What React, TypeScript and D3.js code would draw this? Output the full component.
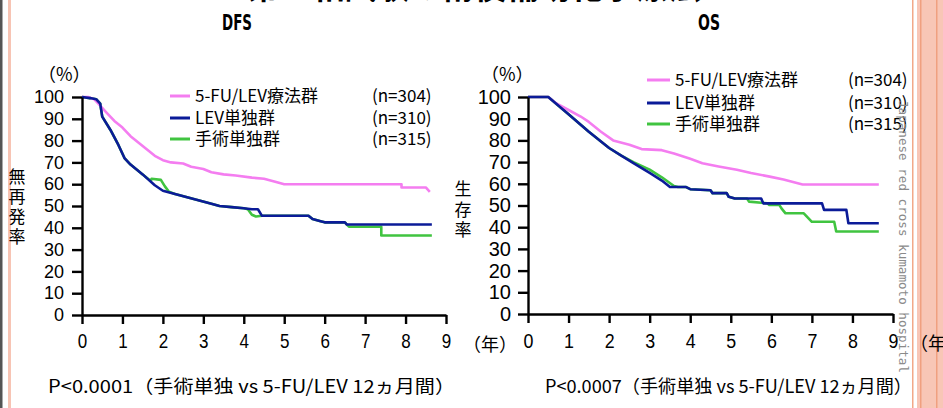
import React, { useEffect, useRef } from "react";
import * as d3 from "d3";

type Pt = [number, number];

const years = [0, 1, 2, 3, 4, 5, 6, 7, 8, 9];
const pctTicks = [0, 10, 20, 30, 40, 50, 60, 70, 80, 90, 100];

const legendLabels = ["5-FU/LEV療法群", "LEV単独群", "手術単独群"];
const legendN = ["(n=304)", "(n=310)", "(n=315)"];
const seriesColors = ["#f47df0", "#0b1b98", "#40c440"];

// DFS (years, %)
const dfsChemo: Pt[] = [
  [0, 100], [0.15, 100], [0.3, 99], [0.45, 96], [0.6, 93], [0.8, 89], [1.0, 86],
  [1.2, 82], [1.4, 79], [1.6, 76], [1.8, 73], [2.0, 71], [2.2, 70], [2.5, 69.5],
  [2.7, 68], [3.0, 67], [3.2, 65.5], [3.5, 64.5], [3.8, 64], [4.2, 63], [4.5, 62.5],
  [4.8, 61], [5.0, 60], [6.0, 60], [7.0, 60], [7.9, 60], [7.9, 58.5], [8.5, 58.5], [8.6, 56.5],
];
const dfsLev: Pt[] = [
  [0, 100], [0.2, 99.5], [0.35, 99], [0.45, 97], [0.5, 91], [0.7, 85], [0.9, 78],
  [1.05, 72], [1.2, 69], [1.5, 64.5], [1.8, 59.5], [2.0, 57], [2.3, 55.5], [2.6, 54],
  [2.9, 52.5], [3.2, 51], [3.4, 50], [3.7, 49.5], [4.0, 49], [4.2, 48.5], [4.35, 48.5],
  [4.45, 45.5], [5.6, 45.5], [5.7, 44], [5.9, 43], [6.0, 42.5], [6.5, 42.5], [6.55, 41.5], [8.65, 41.5],
];
const dfsSurgery: Pt[] = [
  [0, 100], [0.2, 99.5], [0.35, 99], [0.45, 97], [0.5, 91], [0.7, 85], [0.9, 78],
  [1.05, 72], [1.2, 69], [1.5, 64.5], [1.7, 61.5], [1.72, 62.5], [1.95, 62], [2.05, 59],
  [2.15, 56.5], [2.3, 55.5], [2.6, 54], [2.9, 52.5], [3.2, 51], [3.4, 50], [3.7, 49.5],
  [4.0, 49], [4.1, 48.5], [4.2, 46], [4.3, 45.2], [4.45, 45.5], [5.6, 45.5], [5.7, 44],
  [5.9, 43], [6.0, 42.5], [6.5, 42.5], [6.55, 41.5], [6.6, 40.5], [7.4, 40.5], [7.4, 36.5], [8.65, 36.5],
];

// OS (years, %)
const osChemo: Pt[] = [
  [0, 100], [0.5, 100], [0.7, 97], [1.0, 94], [1.3, 91], [1.5, 88.5], [1.8, 84],
  [2.1, 80], [2.5, 78], [2.8, 76], [3.3, 75.5], [3.6, 74], [4.0, 71.5], [4.3, 69.5],
  [4.7, 68], [5.15, 66.5], [5.5, 65], [5.96, 63.3], [6.3, 62], [6.77, 59.7], [8.65, 59.7],
];
const osLev: Pt[] = [
  [0, 100], [0.5, 100], [1.0, 92], [1.5, 84], [2.0, 76.5], [2.3, 73], [2.6, 69.5],
  [3.0, 65], [3.3, 61.5], [3.5, 58.5], [3.9, 58.5], [4.0, 57.5], [4.5, 57], [4.55, 55.7],
  [4.9, 55.7], [4.95, 54], [5.1, 53.2], [5.75, 53.2], [5.8, 51], [7.25, 51], [7.3, 48],
  [7.85, 48], [7.9, 41.8], [8.65, 41.8],
];
const osSurgery: Pt[] = [
  [0, 100], [0.5, 100], [1.0, 92], [1.5, 84], [2.0, 76.5], [2.3, 73], [2.6, 70],
  [3.0, 66.5], [3.3, 63], [3.6, 59], [3.7, 58.5], [3.9, 58.5], [4.0, 57.5], [4.5, 57],
  [4.55, 55.7], [4.9, 55.7], [4.95, 54], [5.1, 53.2], [5.4, 53.2], [5.45, 51.8], [5.9, 51],
  [5.95, 50.2], [6.2, 50.2], [6.25, 48.7], [6.35, 46.4], [6.8, 46.4], [7.0, 42.5],
  [7.55, 42.5], [7.6, 38], [8.65, 38],
];

const jp = "'Noto Sans CJK JP', sans-serif";
const num = "'Liberation Sans', Arial, sans-serif";

const drawKM = (svg: any, c: any) => {
  const x = d3.scaleLinear().domain([0, 9]).range([c.x0, c.x9]);
  const y = d3.scaleLinear().domain([0, 100]).range([c.y0, c.y100]);
  const g = svg.append("g");

  // curves: surgery under, chemo, LEV on top
  const line = d3.line<Pt>().x(d => x(d[0])).y(d => y(d[1]));
  [[c.series[2], seriesColors[2]], [c.series[0], seriesColors[0]], [c.series[1], seriesColors[1]]]
    .forEach(([s, col]: any) => {
      g.append("path")
        .attr("d", line(s))
        .attr("fill", "none")
        .attr("stroke", col)
        .attr("stroke-width", 2.6)
        .attr("stroke-linejoin", "round");
    });

  // y axis
  const ya = g.append("g")
    .attr("transform", `translate(${c.x0},0)`)
    .call(d3.axisLeft(y).tickValues(pctTicks).tickSize(10).tickSizeOuter(0).tickPadding(c.yPad));
  ya.attr("font-family", num).attr("font-size", c.yFont);
  ya.selectAll("path, line").attr("stroke", "#000").attr("stroke-width", 2.4);

  // x axis
  const xa = g.append("g")
    .attr("transform", `translate(0,${c.y0})`)
    .call(d3.axisBottom(x).tickValues(years).tickFormat(d3.format("d")).tickSize(9).tickSizeOuter(0).tickPadding(10));
  xa.attr("font-family", num).attr("font-size", c.xFont);
  xa.selectAll("path, line").attr("stroke", "#000").attr("stroke-width", 2.4);
  xa.selectAll("text").attr("transform", "scale(0.85,1)");

  // unit labels
  g.append("text").attr("x", c.pctX).attr("y", 81).attr("font-family", jp).attr("font-size", 18)
    .text("（%）");
  g.append("text").attr("x", c.x9 + 17).attr("y", c.y0 + 36).attr("font-family", jp).attr("font-size", 18)
    .text("（年）");

  // vertical y label
  c.yLabel.split("").forEach((ch: string, i: number) => {
    g.append("text").attr("x", c.yLabX).attr("y", c.yLabY + i * c.yLabStep)
      .attr("text-anchor", "middle").attr("font-family", jp).attr("font-size", 17)
      .text(ch);
  });

  // legend
  legendLabels.forEach((lab, i) => {
    const ly = c.legY[i];
    g.append("line").attr("x1", c.legX1).attr("x2", c.legX2).attr("y1", ly).attr("y2", ly)
      .attr("stroke", seriesColors[i]).attr("stroke-width", 3);
    g.append("text").attr("x", c.legTx).attr("y", ly + 6).attr("font-family", jp).attr("font-size", 17)
      .text(lab);
    g.append("text").attr("x", c.legNx).attr("y", ly + 6).attr("font-family", jp).attr("font-size", 17)
      .text(legendN[i]);
  });

  // panel title
  g.append("text").attr("x", c.titleX).attr("y", 30).attr("text-anchor", "middle")
    .attr("font-family", "'DejaVu Sans Condensed', 'Liberation Sans', sans-serif").attr("font-weight", "bold")
    .attr("font-size", 21).attr("textLength", c.titleW).attr("lengthAdjust", "spacingAndGlyphs")
    .text(c.title);

  // p-value note
  g.append("text").attr("x", c.pX).attr("y", 393).attr("font-family", jp).attr("font-size", 18)
    .attr("textLength", c.pW).attr("lengthAdjust", "spacingAndGlyphs")
    .text(c.pText);
};

const App = () => {
  const ref = useRef<SVGSVGElement>(null);

  useEffect(() => {
    const svg = d3.select(ref.current);
    svg.selectAll("*").remove();

    svg.append("rect").attr("width", 943).attr("height", 408).attr("fill", "#fff");

    // slide frame
    svg.append("rect").attr("x", 0).attr("y", 0).attr("width", 2.5).attr("height", 408).attr("fill", "#555");
    svg.append("rect").attr("x", 8).attr("y", 0).attr("width", 3).attr("height", 408).attr("fill", "#f7c4b4");
    svg.append("rect").attr("x", 912).attr("y", 0).attr("width", 1.5).attr("height", 408).attr("fill", "#f2a888");
    svg.append("rect").attr("x", 917).attr("y", 0).attr("width", 26).attr("height", 408).attr("fill", "#f8c6b6");
    svg.append("rect").attr("x", 920).attr("y", 0).attr("width", 1.5).attr("height", 408).attr("fill", "#f0a080");
    svg.append("rect").attr("x", 936).attr("y", 0).attr("width", 1.5).attr("height", 408).attr("fill", "#f0a080");

    // slide heading, cut off at the top
    svg.append("text").attr("x", 474).attr("y", -2).attr("text-anchor", "middle")
      .attr("font-family", jp).attr("font-weight", "bold").attr("font-size", 40)
      .attr("textLength", 453).attr("lengthAdjust", "spacingAndGlyphs")
      .text("第三相試験の術後補助化学療法");

    drawKM(svg, {
      x0: 82, x9: 446, y0: 315, y100: 97,
      series: [dfsChemo, dfsLev, dfsSurgery],
      yFont: 18, xFont: 20, yPad: 8,
      pctX: 38,
      yLabel: "無再発率", yLabX: 17, yLabY: 183, yLabStep: 20,
      legX1: 170, legX2: 190, legTx: 195, legNx: 372, legY: [96, 118, 139],
      title: "DFS", titleX: 237, titleW: 30,
      pX: 48, pW: 407, pText: "P<0.0001（手術単独 vs 5-FU/LEV 12ヵ月間）",
    });

    drawKM(svg, {
      x0: 528, x9: 893, y0: 314, y100: 97,
      series: [osChemo, osLev, osSurgery],
      yFont: 20, xFont: 21, yPad: 7,
      pctX: 481,
      yLabel: "生存率", yLabX: 463, yLabY: 195, yLabStep: 20.5,
      legX1: 647, legX2: 670, legTx: 675, legNx: 848, legY: [80, 103, 124],
      title: "OS", titleX: 709, titleW: 22,
      pX: 545, pW: 367, pText: "P<0.0007（手術単独 vs 5-FU/LEV 12ヵ月間）",
    });

    // watermark
    svg.append("text")
      .attr("transform", "translate(899,100) rotate(90)")
      .attr("font-family", "'DejaVu Sans Mono', monospace").attr("font-size", 12.6)
      .attr("fill", "#8a8a8a")
      .attr("textLength", 273).attr("lengthAdjust", "spacingAndGlyphs")
      .text("Japanese red cross kumamoto hospital");
  }, []);

  return (
    <svg
      ref={ref}
      width={943}
      height={408}
      style={{ position: "absolute", left: 0, top: 0 }}
    />
  );
};

export default App;
